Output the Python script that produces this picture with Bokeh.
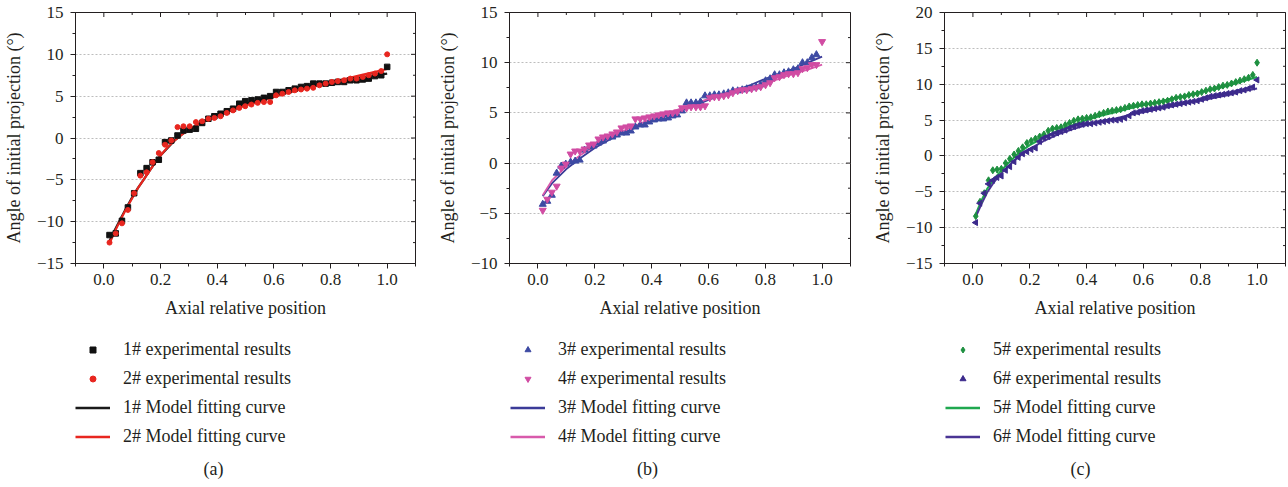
import math
from bokeh.plotting import figure
from bokeh.models import (FixedTicker, NumeralTickFormatter, Legend,
                          LegendItem, Range1d, Label)
from bokeh.layouts import row, column
from bokeh.embed import file_html
from bokeh.resources import INLINE

# ---------------- data: panel (a) ----------------
x_a = [0.02, 0.042, 0.064, 0.085, 0.107, 0.129, 0.151, 0.172, 0.194, 0.216,
       0.238, 0.26, 0.281, 0.303, 0.325, 0.347, 0.369, 0.39, 0.412, 0.434,
       0.456, 0.478, 0.499, 0.521, 0.543, 0.565, 0.587, 0.608, 0.63, 0.652,
       0.674, 0.696, 0.717, 0.739, 0.761, 0.783, 0.805, 0.826, 0.848, 0.87,
       0.892, 0.914, 0.935, 0.957, 0.979, 1.0]
exp1 = [-11.6, -11.4, -9.9, -8.3, -6.6, -4.2, -3.6, -2.9, -2.6, -0.5,
        -0.3, 0.3, 0.9, 1.0, 1.1, 1.8, 2.3, 2.6, 2.9, 3.2,
        3.5, 4.1, 4.4, 4.5, 4.6, 4.8, 5.0, 5.5, 5.5, 5.7,
        5.9, 6.1, 6.2, 6.5, 6.5, 6.5, 6.6, 6.7, 6.7, 6.9,
        6.9, 7.0, 7.1, 7.4, 7.5, 8.5]
exp2 = [-12.5, -11.4, -10.2, -8.6, -6.6, -4.5, -4.1, -2.9, -1.8, -0.8,
        -0.3, 1.3, 1.4, 1.4, 1.9, 2.0, 2.3, 2.4, 2.6, 3.0,
        3.3, 3.6, 3.8, 4.0, 4.2, 4.3, 4.3, 5.1, 5.3, 5.5,
        5.7, 5.8, 5.9, 6.0, 6.3, 6.5, 6.7, 6.8, 6.9, 7.1,
        7.1, 7.3, 7.5, 7.7, 8.0, 10.0]
xfit_a = [0.02, 0.04, 0.06, 0.08, 0.1, 0.12, 0.14, 0.16, 0.18, 0.2, 0.225, 0.25,
          0.275, 0.3, 0.35, 0.4, 0.45, 0.5, 0.55, 0.6, 0.65, 0.7, 0.75, 0.8,
          0.85, 0.9, 0.95, 1.0]
fit1 = [-12.3, -10.9, -9.6, -8.3, -7.1, -6.0, -5.0, -4.0, -3.0, -2.1, -1.2, -0.3,
        0.4, 1.0, 2.0, 2.8, 3.5, 4.1, 4.6, 5.1, 5.55, 5.95, 6.35, 6.7,
        6.95, 7.2, 7.45, 7.7]
fit2 = [-12.6, -11.1, -9.7, -8.4, -7.2, -6.0, -5.0, -4.0, -3.0, -2.1, -1.1, -0.3,
        0.4, 1.0, 1.9, 2.6, 3.3, 3.9, 4.4, 4.9, 5.4, 5.85, 6.25, 6.65,
        7.05, 7.45, 7.85, 8.25]

# ---------------- data: panel (b) ----------------
x_b = [0.017, 0.033, 0.049, 0.066, 0.082, 0.098, 0.115, 0.131, 0.147, 0.164,
       0.18, 0.196, 0.213, 0.229, 0.245, 0.262, 0.278, 0.294, 0.311, 0.327,
       0.343, 0.36, 0.376, 0.392, 0.409, 0.425, 0.441, 0.458, 0.474, 0.49,
       0.507, 0.523, 0.539, 0.556, 0.572, 0.588, 0.605, 0.621, 0.637, 0.654,
       0.67, 0.686, 0.703, 0.719, 0.735, 0.752, 0.768, 0.784, 0.801, 0.817,
       0.833, 0.85, 0.866, 0.882, 0.899, 0.915, 0.931, 0.948, 0.964, 0.98]
x_b_end = [1.0]
exp3 = [-4.1, -3.8, -3.2, -1.0, -0.3, -0.1, 0.1, 0.2, 0.3, 1.3,
        1.6, 1.7, 2.0, 2.2, 2.5, 2.6, 2.8, 3.0, 3.0, 3.2,
        3.6, 3.8, 3.8, 4.1, 4.3, 4.4, 4.4, 4.5, 4.7, 4.8,
        5.2, 6.0, 6.0, 6.0, 6.1, 6.7, 6.7, 6.8, 6.8, 6.9,
        7.0, 7.2, 7.2, 7.3, 7.4, 7.5, 7.6, 7.8, 8.2, 8.4,
        8.8, 8.8, 9.0, 9.1, 9.3, 9.4, 10.0, 10.0, 10.5, 10.8]
exp4 = [-4.7, -3.6, -2.9, -2.3, -0.5, -0.1, 0.9, 1.2, 1.2, 1.4,
        1.8, 1.9, 2.4, 2.6, 2.7, 2.9, 3.1, 3.5, 3.6, 3.7,
        4.4, 4.4, 4.5, 4.6, 4.7, 4.8, 4.9, 5.0, 5.0, 5.1,
        5.5, 5.5, 5.6, 5.6, 5.6, 5.7, 6.5, 6.6, 6.6, 6.7,
        6.8, 7.0, 7.2, 7.3, 7.3, 7.4, 7.5, 7.6, 7.8, 8.0,
        8.5, 8.6, 8.8, 8.9, 8.9, 9.0, 9.4, 9.5, 9.8, 9.8,
        12.1]
xfit_b = [0.017, 0.05, 0.1, 0.15, 0.2, 0.25, 0.3, 0.35, 0.4, 0.45, 0.5, 0.55,
          0.6, 0.65, 0.7, 0.75, 0.8, 0.85, 0.9, 0.95, 1.0]
fit3 = [-3.3, -2.0, -0.6, 0.5, 1.5, 2.3, 3.0, 3.6, 4.2, 4.7, 5.2, 5.7,
        6.3, 6.8, 7.3, 7.8, 8.4, 8.9, 9.4, 10.0, 10.6]
fit4 = [-3.2, -1.7, -0.3, 0.8, 1.7, 2.5, 3.2, 3.8, 4.4, 4.9, 5.4, 5.9,
        6.4, 6.8, 7.2, 7.6, 8.0, 8.4, 8.9, 9.3, 9.8]

# ---------------- data: panel (c) ----------------
x_c = [0.01, 0.025, 0.04, 0.055, 0.07, 0.085, 0.1, 0.115, 0.13, 0.145,
       0.16, 0.175, 0.19, 0.205, 0.22, 0.235, 0.25, 0.265, 0.28, 0.295,
       0.31, 0.325, 0.34, 0.355, 0.37, 0.385, 0.4, 0.415, 0.43, 0.445,
       0.46, 0.475, 0.49, 0.505, 0.52, 0.535, 0.55, 0.565, 0.58, 0.595,
       0.61, 0.625, 0.64, 0.655, 0.67, 0.685, 0.7, 0.715, 0.73, 0.745,
       0.76, 0.775, 0.79, 0.805, 0.82, 0.835, 0.85, 0.865, 0.88, 0.895,
       0.91, 0.925, 0.94, 0.955, 0.97, 0.985, 1.0]
exp5 = [-8.4, -6.4, -5.2, -3.4, -2.0, -1.9, -1.8, -1.0, -0.4, 0.2,
        0.7, 1.2, 1.8, 2.1, 2.4, 2.7, 3.0, 3.5, 3.8, 3.9,
        4.0, 4.3, 4.6, 4.9, 5.1, 5.2, 5.3, 5.4, 5.6, 5.8,
        6.0, 6.2, 6.3, 6.4, 6.5, 6.7, 6.9, 7.0, 7.1, 7.2,
        7.2, 7.3, 7.4, 7.5, 7.6, 7.7, 7.9, 8.1, 8.2, 8.3,
        8.5, 8.6, 8.7, 8.9, 9.1, 9.3, 9.4, 9.6, 9.8, 9.9,
        10.1, 10.3, 10.5, 10.7, 10.9, 11.3, 13.0]
exp6 = [-9.3, -6.6, -5.2, -3.9, -3.4, -3.0, -2.8, -2.0, -1.5, -0.8,
        -0.2, 0.3, 0.6, 0.9, 1.1, 2.0, 2.5, 2.7, 3.0, 3.2,
        3.4, 3.6, 3.9, 4.1, 4.3, 4.4, 4.5, 4.5, 4.6, 4.7,
        4.8, 4.9, 5.0, 5.0, 5.1, 5.3, 5.6, 6.0, 6.1, 6.3,
        6.4, 6.5, 6.6, 6.7, 6.8, 7.0, 7.1, 7.2, 7.3, 7.4,
        7.5, 7.6, 7.7, 7.9, 8.1, 8.3, 8.4, 8.5, 8.6, 8.7,
        8.8, 8.9, 9.1, 9.2, 9.4, 9.6, 10.6]
xfit_c = [0.01, 0.03, 0.05, 0.075, 0.1, 0.125, 0.15, 0.175, 0.2, 0.25, 0.3, 0.35,
          0.4, 0.45, 0.5, 0.55, 0.6, 0.65, 0.7, 0.75, 0.8, 0.85, 0.9, 0.95, 1.0]
fit5 = [-8.1, -6.2, -4.6, -3.2, -2.0, -1.0, 0.0, 0.8, 1.5, 2.6, 3.5, 4.3,
        5.0, 5.6, 6.1, 6.6, 7.1, 7.5, 8.0, 8.4, 8.9, 9.3, 9.8, 10.4, 11.0]
fit6 = [-8.5, -6.7, -5.1, -3.6, -2.4, -1.4, -0.5, 0.3, 1.0, 2.1, 3.0, 3.7,
        4.3, 4.8, 5.2, 5.7, 6.1, 6.5, 6.9, 7.3, 7.7, 8.1, 8.5, 9.0, 9.4]

x_major = [0.0, 0.2, 0.4, 0.6, 0.8, 1.0]
x_minor = [-0.1, 0.1, 0.3, 0.5, 0.7, 0.9, 1.1]

FONT = "Liberation Serif"
TXT = "#231f20"
GRID = "#bdbdbd"
PLOT_H = 335
LEG_H = 487 - PLOT_H


def make_panel(width, left, right, ylo, yhi, ymajor, yminor):
    p = figure(width=width, height=PLOT_H, output_backend="svg", toolbar_location=None,
               x_range=Range1d(-0.1, 1.1), y_range=Range1d(ylo, yhi),
               min_border_left=left, min_border_right=right,
               min_border_top=12, min_border_bottom=PLOT_H - 263,
               x_axis_label="Axial relative position",
               y_axis_label="Angle of initial projection (°)")
    p.background_fill_color = "white"
    p.border_fill_color = "white"
    p.outline_line_color = TXT
    p.outline_line_width = 1

    xt = FixedTicker(ticks=x_major, minor_ticks=x_minor)
    yt = FixedTicker(ticks=ymajor, minor_ticks=yminor)

    xa = p.xaxis[0]
    xa.ticker = xt
    xa.formatter = NumeralTickFormatter(format="0.0")
    ya = p.yaxis[0]
    ya.ticker = yt
    for ax in (xa, ya):
        ax.axis_line_color = TXT
        ax.major_tick_line_color = TXT
        ax.minor_tick_line_color = TXT
        ax.major_tick_out = 5
        ax.major_tick_in = 0
        ax.minor_tick_out = 3
        ax.minor_tick_in = 0
        ax.major_label_text_font = FONT
        ax.major_label_text_font_size = "17px"
        ax.major_label_text_color = TXT
        ax.axis_label_text_font = FONT
        ax.axis_label_text_font_size = "18px"
        ax.axis_label_text_font_style = "normal"
        ax.axis_label_text_color = TXT
    xa.major_label_standoff = 5
    xa.axis_label_standoff = 10
    ya.major_label_standoff = 7
    ya.axis_label_standoff = 10

    # mirrored inward ticks on top and right edges (outer half of each dash is clipped)
    p.scatter(x_major, [yhi] * len(x_major), marker="dash", angle=math.pi / 2, size=9,
              line_color=TXT, line_width=1)
    p.scatter(x_minor, [yhi] * len(x_minor), marker="dash", angle=math.pi / 2, size=5,
              line_color=TXT, line_width=1)
    p.scatter([1.1] * len(ymajor), ymajor, marker="dash", size=9, line_color=TXT, line_width=1)
    p.scatter([1.1] * len(yminor), yminor, marker="dash", size=5, line_color=TXT, line_width=1)

    p.xgrid.visible = False
    p.ygrid.ticker = yt
    p.ygrid.grid_line_color = GRID
    p.ygrid.grid_line_dash = "2 2"
    p.ygrid.grid_line_width = 1
    return p


def make_legend_fig(width, leg_x, cap_x, caption, specs):
    """specs: (label, kind, xs, ys, style). The series are attached as hidden renderers
    so the legend can draw their samples; nothing is drawn in this strip itself."""
    f = figure(width=width, height=LEG_H, output_backend="svg", toolbar_location=None,
               x_range=Range1d(-0.1, 1.1), y_range=Range1d(0, 1),
               x_axis_location=None, y_axis_location=None,
               min_border=0, min_border_left=0, min_border_right=0,
               min_border_top=0, min_border_bottom=0)
    f.grid.visible = False
    f.outline_line_color = None
    f.background_fill_color = "white"
    f.border_fill_color = "white"
    items = []
    for label, kind, xs, ys, kw in specs:
        if kind == "line":
            r = f.line(xs, ys, **kw)
        else:
            r = f.scatter(xs, ys, **kw)
        r.visible = False
        items.append(LegendItem(label=label, renderers=[r]))
    leg = Legend(items=items, location=(leg_x, 40), orientation="vertical",
                 glyph_width=35, glyph_height=15, label_height=20, spacing=8,
                 padding=0, margin=0, label_standoff=13,
                 label_text_font=FONT, label_text_font_size="18px", label_text_color=TXT,
                 border_line_alpha=0, background_fill_alpha=0,
                 inactive_fill_alpha=0)
    f.add_layout(leg, "center")
    f.add_layout(Label(x=cap_x, y=19, x_units="screen", y_units="screen", text=caption,
                       text_align="center", text_baseline="middle", text_font=FONT,
                       text_font_size="18px", text_color=TXT))
    return f


C1, C2 = "#111111", "#e8261f"
C3, C4 = "#3d4aa3", "#d14ca3"
L3, L4 = "#3b3b98", "#d85aab"
C5, C6 = "#1e9040", "#3c2a8c"
L5, L6 = "#1fa84f", "#4a3494"

# ---------------- panel (a) ----------------
pa = make_panel(430, 74, 15, -15, 15, [-15, -10, -5, 0, 5, 10, 15],
                [-12.5, -7.5, -2.5, 2.5, 7.5, 12.5])
pa.line(xfit_a, fit1, line_color="#1a1a1a", line_width=2.2)
pa.line(xfit_a, fit2, line_color=C2, line_width=2.2)
pa.scatter(x_a, exp1, marker="square", size=5.5, color=C1)
pa.scatter(x_a, exp2, marker="circle", size=5, color=C2)
la = make_legend_fig(430, 75, 213, "(a)", [
    ("1# experimental results", "scatter", x_a, exp1, dict(marker="square", size=6, color=C1)),
    ("2# experimental results", "scatter", x_a, exp2, dict(marker="circle", size=5, color=C2)),
    ("1# Model fitting curve", "line", xfit_a, fit1, dict(line_color="#1a1a1a", line_width=2.5)),
    ("2# Model fitting curve", "line", xfit_a, fit2, dict(line_color=C2, line_width=2.5))])

# ---------------- panel (b) ----------------
pb = make_panel(430, 79, 10, -10, 15, [-10, -5, 0, 5, 10, 15],
                [-7.5, -2.5, 2.5, 7.5, 12.5])
pb.line(xfit_b, fit3, line_color=L3, line_width=1.8)
pb.line(xfit_b, fit4, line_color=L4, line_width=1.8)
pb.scatter(x_b, exp3, marker="triangle", size=7, color=C3)
pb.scatter(x_b + x_b_end, exp4, marker="inverted_triangle", size=7, color=C4)
lb = make_legend_fig(430, 80, 217, "(b)", [
    ("3# experimental results", "scatter", x_b, exp3, dict(marker="triangle", size=6, color=C3)),
    ("4# experimental results", "scatter", x_b + x_b_end, exp4,
     dict(marker="inverted_triangle", size=6, color=C4)),
    ("3# Model fitting curve", "line", xfit_b, fit3, dict(line_color=L3, line_width=2.5)),
    ("4# Model fitting curve", "line", xfit_b, fit4, dict(line_color=L4, line_width=2.5))])

# ---------------- panel (c) ----------------
pc = make_panel(428, 84, 3, -15, 20, [-15, -10, -5, 0, 5, 10, 15, 20],
                [-12.5, -7.5, -2.5, 2.5, 7.5, 12.5, 17.5])
pc.line(xfit_c, fit5, line_color=L5, line_width=2)
pc.line(xfit_c, fit6, line_color=L6, line_width=2)
pc.scatter(x_c, exp5, marker="diamond", size=7, color=C5)
pc.scatter(x_c, exp6, marker="triangle", angle=math.pi / 2, size=6, color=C6)
lc = make_legend_fig(428, 85, 220, "(c)", [
    ("5# experimental results", "scatter", x_c, exp5, dict(marker="diamond", size=7, color=C5)),
    ("6# experimental results", "scatter", x_c, exp6,
     dict(marker="triangle", angle=math.pi / 2, size=6, color=C6)),
    ("5# Model fitting curve", "line", xfit_c, fit5, dict(line_color=L5, line_width=2.5)),
    ("6# Model fitting curve", "line", xfit_c, fit6, dict(line_color=L6, line_width=2.5))])

layout = column(row(pa, pb, pc), row(la, lb, lc))
open("out.html", "w").write(file_html(layout, INLINE))
